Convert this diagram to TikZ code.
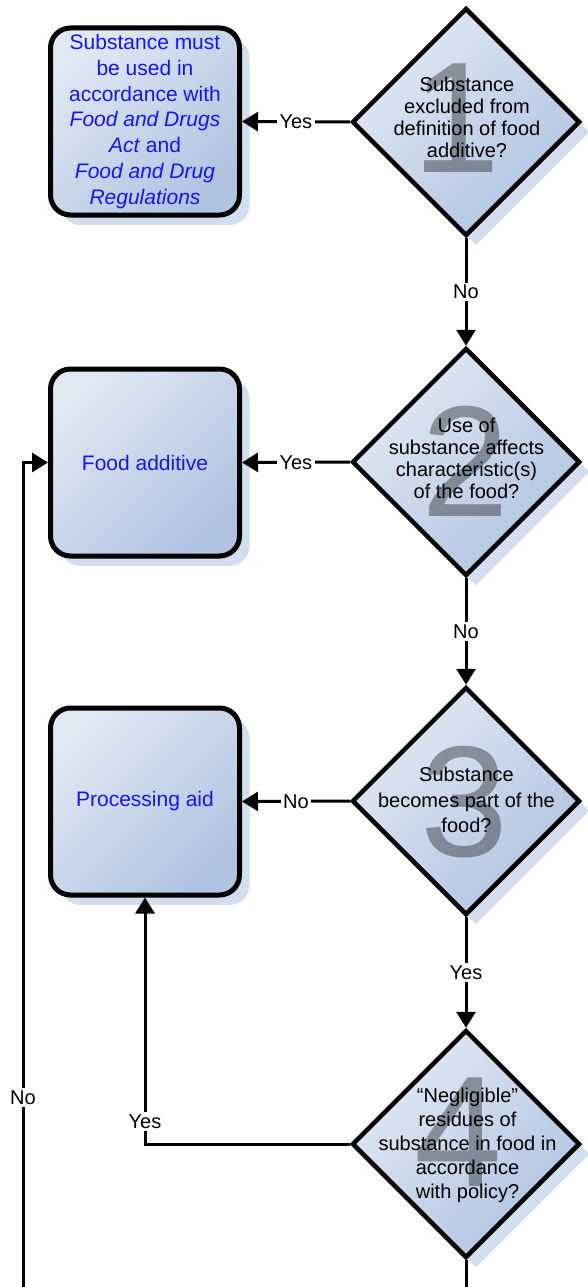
\documentclass[tikz,border=0pt]{standalone}
\usepackage{fontspec}
\setmainfont{Liberation Sans}
\usetikzlibrary{shapes.geometric,arrows.meta,shadows}
\definecolor{fillA}{RGB}{224,232,244}
\definecolor{fillB}{RGB}{176,195,224}
\definecolor{shadowc}{RGB}{210,222,240}
\definecolor{boxtext}{RGB}{20,20,245}
\begin{document}
\begin{tikzpicture}[x=1pt,y=-1pt,
  shadowed/.style={general shadow={draw=none,shadow xshift=10pt,shadow yshift=-10pt,fill=shadowc}},
  gradfill/.style={top color=fillA,bottom color=fillB,shading angle=45},
  box/.style={shadowed,gradfill,draw=black,line width=5pt,rounded corners=20pt,
    minimum width=189pt,minimum height=187pt,inner sep=0pt},
  dia/.style={shadowed,gradfill,draw=black,line width=4.5pt,diamond,aspect=1,
    minimum width=228pt,minimum height=228pt,inner sep=0pt},
  btext/.style={text=boxtext,align=center,inner sep=0pt,font=\fontsize{21}{25.7}\selectfont},
  qtext/.style={text=black,align=center,inner sep=0pt,font=\fontsize{20}{#1}\selectfont},
  digit/.style={text=black,text opacity=0.35,inner sep=0pt,font=\fontsize{158}{158}\selectfont},
  conn/.style={draw=black,line width=3pt,-{Triangle[length=16pt,width=19pt]}},
  plainline/.style={draw=black,line width=3pt},
  lab/.style={fill=white,inner sep=2.5pt,font=\fontsize{20}{22}\selectfont}]
\useasboundingbox (0,0) rectangle (587,1287);

% boxes
\node[box] (b1) at (145,121.5) {};
\node[btext] (t1) at (b1) {Substance must\\be used in\\accordance with\\\textit{Food and Drugs}\\\textit{Act} and\\\textit{Food and Drug}\\\textit{Regulations}};
\node[box] (b2) at (145,462.5) {};
\node[btext] (t2) at (b2) {Food additive};
\node[box] (b3) at (145,801.5) {};
\node[btext] (t3) at (b3) {Processing aid};

% diamonds
\node[dia] (d1) at (466,122) {};
\node[digit] (n1) at (456.5,118.5) {1};
\node[qtext=22] (q1) at (467,117) {Substance\\excluded from\\definition of food\\additive?};
\node[dia] (d2) at (466,462) {};
\node[digit] (n2) at (465,461) {2};
\node[qtext=22] (q2) at (466.5,458) {Use of\\substance affects\\characteristic(s)\\of the food?};
\node[dia] (d3) at (466,801) {};
\node[digit] (n3) at (464,802) {3};
\node[qtext=25.5] (q3) at (466.5,800) {Substance\\becomes part of the\\food?};
\node[dia] (d4) at (466,1144) {};
\node[digit] (n4) at (458,1132) {4};
\node[qtext=24] (q4) at (467.5,1145) {“Negligible”\\residues of\\substance in food in\\accordance\\with policy?};

% end points at the lower edge
\coordinate (endR) at (466,1287);
\coordinate (endL) at (23,1287);

% connectors
\draw[conn] (d1.west) -- node[lab] (y1) {Yes} (b1.east);
\draw[conn] (d1.south) -- node[lab] (o1) {No} (d2.north);
\draw[conn] (d2.west) -- node[lab] (y2) {Yes} (b2.east);
\draw[conn] (d2.south) -- node[lab] (o2) {No} (d3.north);
\draw[conn] (d3.west) -- node[lab] (o3) {No} (b3.east);
\draw[conn] (d3.south) -- node[lab] (y3) {Yes} (d4.north);
\draw[conn] (d4.west) -| node[lab,pos=0.545] (y4) {Yes} (b3.south);
\draw[plainline] (d4.south) -- (endR);
\draw[conn] (endL) |- node[lab,pos=0.115] (o4) {No} (b2.west);
\end{tikzpicture}
\end{document}
